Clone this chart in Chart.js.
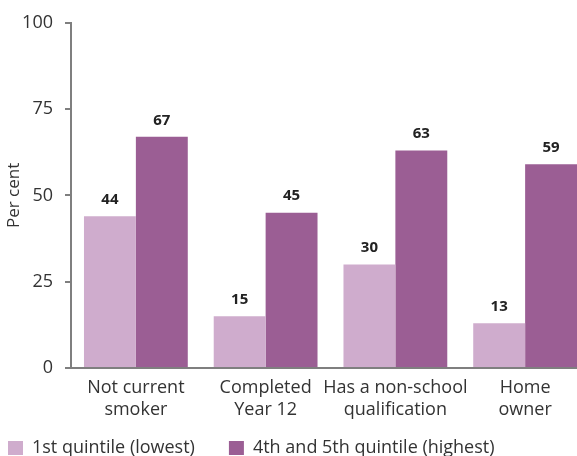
<!DOCTYPE html>
<html>
<head>
<meta charset="utf-8">
<script src="https://cdn.jsdelivr.net/npm/chart.js@4"></script>
<style>
  html, body { margin: 0; padding: 0; background: #fff; overflow: hidden; }
  #wrap { width: 590px; height: 456px; }
</style>
</head>
<body>
<div id="wrap"><canvas id="chart" width="590" height="456"></canvas></div>
<script>
const categories = [['Not current', 'smoker'], ['Completed', 'Year 12'], ['Has a non-school', 'qualification'], ['Home', 'owner']];
const lowest = [44, 15, 30, 13];
const highest = [67, 45, 63, 59];
const seriesNames = ['1st quintile (lowest)', '4th and 5th quintile (highest)'];
const yTicks = [0, 25, 50, 75, 100];

const FONT = '"Open Sans", sans-serif';

// write the value above each bar
const valueLabels = {
    id: 'valueLabels',
    afterDatasetsDraw(chart) {
        const ctx = chart.ctx;
        ctx.save();
        ctx.font = 'bold 15px ' + FONT;
        ctx.fillStyle = '#222';
        ctx.textAlign = 'center';
        ctx.textBaseline = 'bottom';
        chart.data.datasets.forEach((ds, i) => {
            chart.getDatasetMeta(i).data.forEach((bar, j) => {
                ctx.fillText(ds.data[j], bar.x, bar.y - 9);
            });
        });
        ctx.restore();
    }
};

new Chart(document.getElementById('chart').getContext('2d'), {
    type: 'bar',
    data: {
        labels: categories,
        datasets: [
            { label: seriesNames[0], data: lowest, backgroundColor: '#cfaccd' },
            { label: seriesNames[1], data: highest, backgroundColor: '#9b5e94' }
        ]
    },
    options: {
        responsive: false,
        animation: false,
        layout: { padding: { top: 13, left: 4, right: 0, bottom: -11 } },
        datasets: { bar: { categoryPercentage: 0.8, barPercentage: 1.0 } },
        scales: {
            x: {
                grid: { display: false },
                border: { display: true, color: '#7f7f7f', width: 2 },
                ticks: { color: '#333', autoSkip: false, font: { family: FONT, size: 18, lineHeight: 1.22 }, padding: 1, maxRotation: 0 },
                afterFit: scale => { scale.height += 13; }
            },
            y: {
                min: 0,
                max: 100,
                afterBuildTicks: axis => { axis.ticks = yTicks.map(v => ({ value: v })); },
                afterFit: scale => { scale.width = 67; },
                grid: { drawOnChartArea: false, color: '#7f7f7f', lineWidth: 2, tickLength: 6 },
                border: { display: true, color: '#7f7f7f', width: 2 },
                ticks: { color: '#333', font: { family: FONT, size: 18 }, padding: 12 },
                title: { display: true, text: 'Per cent', color: '#333', font: { family: FONT, size: 17 }, padding: 0 }
            }
        },
        plugins: {
            legend: {
                position: 'bottom',
                align: 'start',
                labels: {
                    color: '#333',
                    font: { family: FONT, size: 18 },
                    boxWidth: 15,
                    boxHeight: 14,
                    padding: 4,
                    // wider gap between the two legend entries
                    generateLabels: chart => Chart.defaults.plugins.legend.labels.generateLabels(chart)
                        .map((item, i) => (i === 0 ? { ...item, text: item.text + '\u2003\u2002\u2009' } : item))
                }
            },
            tooltip: { enabled: false }
        }
    },
    plugins: [valueLabels]
});
</script>
</body>
</html>
